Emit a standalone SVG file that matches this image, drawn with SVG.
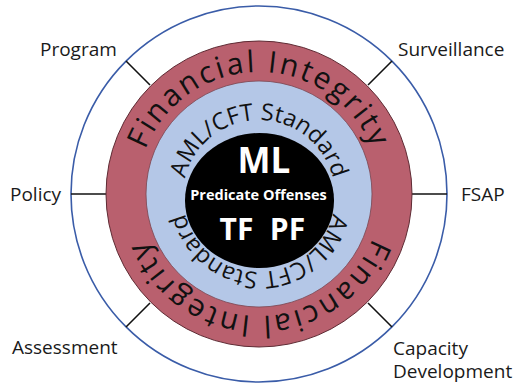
<svg xmlns="http://www.w3.org/2000/svg" width="514" height="387" viewBox="0 0 514 387">
  <style>
    .lbl { font-family: "Open Sans", "Noto Sans", sans-serif; font-size: 19px; fill: #1a1a1a; }
    .fi { font-family: "Open Sans", "Noto Sans", sans-serif; font-size: 30px; fill: #111; letter-spacing: 2.4px; }
    .aml { font-family: "Open Sans", "Noto Sans", sans-serif; font-size: 23.5px; fill: #111; }
    .core { font-family: "Open Sans", "Noto Sans", sans-serif; font-weight: bold; fill: #fff; text-anchor: middle; }
    .spoke { stroke: #111; stroke-width: 1.6; fill: none; }
  </style>
  <defs>
    <path id="fiTop" d="M 137,194 A 122,122 0 0 1 381,194"/>
    <path id="fiBot" d="M 381,194 A 122,122 0 0 1 137,194"/>
    <path id="amlTop" d="M 183,196 A 76,76 0 0 1 335,196"/>
    <path id="amlBot" d="M 335,196 A 76,76 0 0 1 183,196"/>
  </defs>
  <rect width="514" height="387" fill="#fff"/>

  <g id="outer-ring">
    <circle cx="259" cy="194" r="188" fill="#fff" stroke="#3a5ca8" stroke-width="1.6"/>
  </g>

  <g id="connectors">
    <line class="spoke" x1="126" y1="61" x2="150" y2="85"/>
    <line class="spoke" x1="392" y1="61" x2="368" y2="85"/>
    <line class="spoke" x1="71" y1="194" x2="106" y2="194"/>
    <line class="spoke" x1="412" y1="194" x2="447" y2="194"/>
    <line class="spoke" x1="126" y1="327" x2="150" y2="303"/>
    <line class="spoke" x1="392" y1="327" x2="368" y2="303"/>
  </g>

  <g id="financial-integrity">
    <circle cx="259" cy="194" r="153" fill="#b9606e" stroke="#5e2a33" stroke-width="1"/>
    <text class="fi" text-anchor="middle"><textPath href="#fiTop" startOffset="50%">Financial Integrity</textPath></text>
    <text class="fi" text-anchor="middle"><textPath href="#fiBot" startOffset="50%">Financial Integrity</textPath></text>
  </g>

  <g id="aml-cft-standard">
    <circle cx="259" cy="194" r="113" fill="#b4c7e7" stroke="#7a4550" stroke-width="0.8"/>
    <text class="aml" text-anchor="middle"><textPath href="#amlTop" startOffset="50%">AML/CFT Standard</textPath></text>
    <text class="aml" text-anchor="middle"><textPath href="#amlBot" startOffset="50%">AML/CFT Standard</textPath></text>
  </g>

  <g id="core">
    <ellipse cx="259.5" cy="200.5" rx="74.5" ry="67.5" fill="#000"/>
    <text class="core" x="264" y="173" font-size="35">ML</text>
    <text class="core" x="258.5" y="200" font-size="14.5">Predicate Offenses</text>
    <text class="core" x="236.5" y="240" font-size="30">TF</text>
    <text class="core" x="287.5" y="240" font-size="30">PF</text>
  </g>

  <g id="program"><text class="lbl" x="40" y="56">Program</text></g>
  <g id="surveillance"><text class="lbl" x="398" y="56">Surveillance</text></g>
  <g id="policy"><text class="lbl" x="10" y="201">Policy</text></g>
  <g id="fsap"><text class="lbl" x="461" y="201">FSAP</text></g>
  <g id="assessment"><text class="lbl" x="12" y="354">Assessment</text></g>
  <g id="capacity-development">
    <text class="lbl" x="393" y="355">Capacity</text>
    <text class="lbl" x="393" y="378">Development</text>
  </g>
</svg>
